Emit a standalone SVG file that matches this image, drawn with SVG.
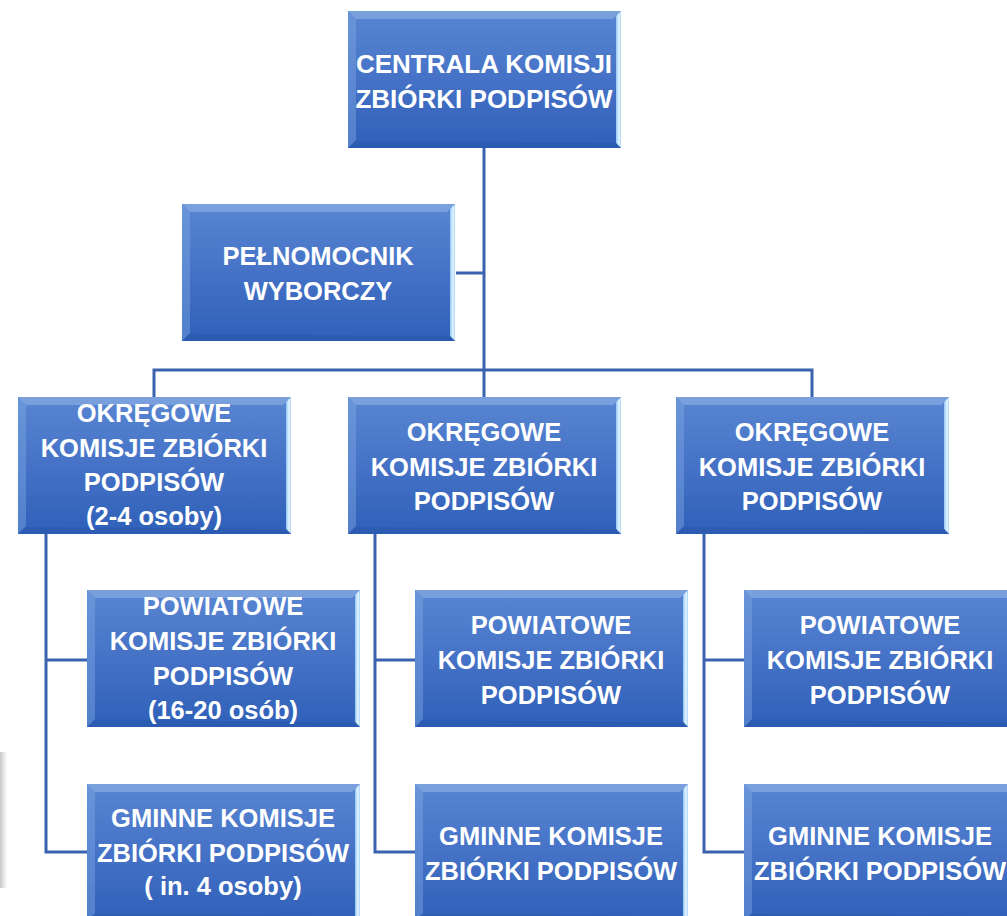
<svg xmlns="http://www.w3.org/2000/svg" xmlns:xlink="http://www.w3.org/1999/xlink" width="1007" height="916" viewBox="0 0 1007 916">
<defs>
<linearGradient id="fill" x1="0" y1="0" x2="0" y2="1">
<stop offset="0" stop-color="#5886D2"/>
<stop offset="0.5" stop-color="#4572C6"/>
<stop offset="1" stop-color="#2F60B8"/>
</linearGradient>
<linearGradient id="right" x1="0" y1="0" x2="1" y2="0">
<stop offset="0" stop-color="#8FC4F2"/>
<stop offset="0.6" stop-color="#E6F6FF"/>
<stop offset="1" stop-color="#A9D4F5"/>
</linearGradient>
<linearGradient id="shadow" x1="0" y1="0" x2="1" y2="0">
<stop offset="0" stop-color="#c8c8c8"/>
<stop offset="1" stop-color="#ffffff"/>
</linearGradient>
<g id="box">
<rect x="0" y="0" width="273" height="137" fill="url(#fill)"/>
<polygon points="0,0 273,0 265,8 8,8" fill="#9BBBEA" opacity="0.5"/>
<polygon points="0,0 8,8 8,129 0,137" fill="#7FA6E2" opacity="0.45"/>
<polygon points="273,0 273,137 268,132 268,5" fill="url(#right)"/>
<polygon points="0,137 273,137 268,132 8,130" fill="#2556AA" opacity="0.45"/>
</g>
<style>
.t{font-family:"Liberation Sans",Arial,sans-serif;font-weight:bold;font-size:25.5px;fill:#ffffff;text-anchor:middle;}
.c{stroke:#3B62AE;stroke-width:3;fill:none;}
</style>
</defs>
<rect width="1007" height="916" fill="#ffffff"/>
<rect x="0" y="752" width="7" height="136" fill="url(#shadow)"/>
<g id="connectors">
<path class="c" d="M484,148 V370"/>
<path class="c" d="M456,273 H484"/>
<path class="c" d="M154,397 V370 H812 V397"/>
<path class="c" d="M484,370 V397"/>
<path class="c" d="M46,534 V852 H87 M46,660 H87"/>
<path class="c" d="M375,534 V852 H415 M375,660 H415"/>
<path class="c" d="M704,534 V852 H744 M704,660 H744"/>
</g>
<g id="centrala">
<use xlink:href="#box" x="348" y="11"/>
<text class="t" x="484" y="73" style="font-size:26px">CENTRALA KOMISJI</text>
<text class="t" x="484" y="108" style="font-size:26px">ZBIÓRKI PODPISÓW</text>
</g>
<g id="pelnomocnik">
<use xlink:href="#box" x="182" y="204"/>
<text class="t" x="318" y="265">PEŁNOMOCNIK</text>
<text class="t" x="318" y="300">WYBORCZY</text>
</g>
<g id="okregowe1">
<use xlink:href="#box" x="18" y="397"/>
<text class="t" x="154" y="422">OKRĘGOWE</text>
<text class="t" x="154" y="457">KOMISJE ZBIÓRKI</text>
<text class="t" x="154" y="491">PODPISÓW</text>
<text class="t" x="154" y="525">(2-4 osoby)</text>
</g>
<g id="okregowe2">
<use xlink:href="#box" x="348" y="397"/>
<text class="t" x="484" y="441">OKRĘGOWE</text>
<text class="t" x="484" y="476">KOMISJE ZBIÓRKI</text>
<text class="t" x="484" y="510">PODPISÓW</text>
</g>
<g id="okregowe3">
<use xlink:href="#box" x="676" y="397"/>
<text class="t" x="812" y="441">OKRĘGOWE</text>
<text class="t" x="812" y="476">KOMISJE ZBIÓRKI</text>
<text class="t" x="812" y="510">PODPISÓW</text>
</g>
<g id="powiatowe1">
<use xlink:href="#box" x="87" y="590"/>
<text class="t" x="223" y="615">POWIATOWE</text>
<text class="t" x="223" y="650">KOMISJE ZBIÓRKI</text>
<text class="t" x="223" y="685">PODPISÓW</text>
<text class="t" x="223" y="719">(16-20 osób)</text>
</g>
<g id="powiatowe2">
<use xlink:href="#box" x="415" y="590"/>
<text class="t" x="551" y="634">POWIATOWE</text>
<text class="t" x="551" y="669">KOMISJE ZBIÓRKI</text>
<text class="t" x="551" y="704">PODPISÓW</text>
</g>
<g id="powiatowe3">
<use xlink:href="#box" x="744" y="590"/>
<text class="t" x="880" y="634">POWIATOWE</text>
<text class="t" x="880" y="669">KOMISJE ZBIÓRKI</text>
<text class="t" x="880" y="704">PODPISÓW</text>
</g>
<g id="gminne1">
<use xlink:href="#box" x="87" y="784"/>
<text class="t" x="223" y="827">GMINNE KOMISJE</text>
<text class="t" x="223" y="862">ZBIÓRKI PODPISÓW</text>
<text class="t" x="223" y="895">( in. 4 osoby)</text>
</g>
<g id="gminne2">
<use xlink:href="#box" x="415" y="784"/>
<text class="t" x="551" y="845">GMINNE KOMISJE</text>
<text class="t" x="551" y="880">ZBIÓRKI PODPISÓW</text>
</g>
<g id="gminne3">
<use xlink:href="#box" x="744" y="784"/>
<text class="t" x="880" y="845">GMINNE KOMISJE</text>
<text class="t" x="880" y="880">ZBIÓRKI PODPISÓW</text>
</g>
</svg>
